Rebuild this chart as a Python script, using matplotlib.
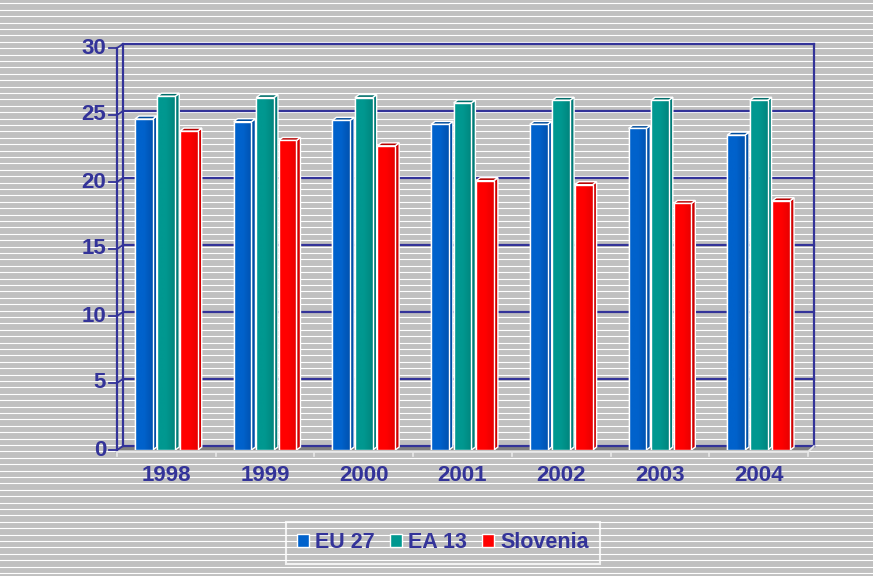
import numpy as np
import matplotlib
matplotlib.use("Agg")
import matplotlib.pyplot as plt
from matplotlib.lines import Line2D
from matplotlib.patches import Polygon, Patch
from matplotlib.colors import LinearSegmentedColormap

# data
years = ["1998", "1999", "2000", "2001", "2002", "2003", "2004"]
eu27 = [24.7, 24.5, 24.6, 24.3, 24.3, 24.0, 23.5]
ea13 = [26.4, 26.3, 26.3, 25.9, 26.1, 26.1, 26.1]
slovenia = [23.8, 23.1, 22.7, 20.1, 19.8, 18.4, 18.6]
series_names = ["EU 27", "EA 13", "Slovenia"]
yticks = [0, 5, 10, 15, 20, 25, 30]

front = ["#0062CC", "#009890", "#FF0000"]
front_dark = ["#0052B0", "#00857E", "#E80000"]
side = ["#0050A8", "#007C78", "#D00000"]
top = ["#004C9C", "#006E6A", "#B80000"]
navy = "#333399"
font = "Liberation Sans"

W, H = 873, 576
fig = plt.figure(figsize=(W / 100, H / 100), dpi=100)
fig.patch.set_facecolor("#C0C0C0")

# striped background
for yy in np.arange(3, H, 6.4):
    fig.add_artist(Line2D([0, 1], [yy / H, yy / H], color="white", lw=0.8,
                          zorder=-1, transform=fig.transFigure))

ax = fig.add_axes([117 / W, 126 / H, 691 / W, 402 / H])
ax.set_facecolor("none")
for s in ax.spines.values():
    s.set_visible(False)
ax.set_xlim(-0.5, 6.5)
ax.set_ylim(0, 30)
ax.set_xticks([])
ax.set_yticks([])

# pixel -> data conversions
pxx = 7 / 691
pxy = 30 / 402
wx, wy = 6 * pxx, 4 * pxy      # wall depth
bx, by = 4 * pxx, 3 * pxy      # bar depth

# floor
ax.add_patch(Polygon([(-0.5, 0), (6.5, 0), (6.5 + wx, wy), (-0.5 + wx, wy)],
                     closed=True, fc="#808080", ec="none", clip_on=False, zorder=1))
ax.plot([-0.5, 6.5], [-0.15, -0.15], color="#E8E8E8", lw=1.2, clip_on=False, zorder=2)
for k in range(8):
    ax.plot([k - 0.5, k - 0.5], [-0.15, -0.45], color="#E8E8E8", lw=1.2,
            clip_on=False, zorder=2)
ax.plot([6.5, 6.5 + wx], [-0.15, wy], color="#E8E8E8", lw=1.2, clip_on=False, zorder=2)

# back wall gridlines and edges
for t in yticks:
    ax.plot([-0.5 + wx, 6.5 + wx], [t + wy, t + wy], color=navy, lw=1.6,
            clip_on=False, zorder=1)
    ax.plot([-0.5, -0.5 + wx], [t, t + wy], color=navy, lw=1.3, clip_on=False, zorder=1)
    ax.plot([-0.58, -0.5], [t, t], color=navy, lw=1.3, clip_on=False, zorder=1)
    ax.text(-0.61, t, str(t), ha="right", va="center", color=navy, fontsize=16,
            fontweight="bold", family=font)
ax.plot([-0.5 + wx, -0.5 + wx], [wy, 30 + wy], color=navy, lw=1.6, clip_on=False, zorder=1)
ax.plot([6.5 + wx, 6.5 + wx], [wy, 30 + wy], color=navy, lw=1.6, clip_on=False, zorder=1)
ax.plot([-0.5, -0.5], [-0.15, 30], color=navy, lw=1.6, clip_on=False, zorder=1)

# 3d-looking bars
pitch, bw = 0.228, 0.18
x = np.arange(len(years))
grad = np.linspace(0, 1, 32).reshape(1, -1)
for i, vals in enumerate([eu27, ea13, slovenia]):
    cmap = LinearSegmentedColormap.from_list("g%d" % i, [front[i], front[i], front_dark[i]])
    lefts = x + (i - 1) * pitch - bw / 2
    bars = ax.bar(lefts, vals, width=bw, align="edge", color=front[i], edgecolor="white",
                  linewidth=1, zorder=3)
    for b, xl, h in zip(bars, lefts, vals):
        xr = xl + bw
        im = ax.imshow(grad, cmap=cmap, aspect="auto", extent=(xl, xr, 0, h),
                       zorder=3.1, interpolation="bilinear")
        im.set_clip_path(b)
        ax.add_patch(Polygon([(xl, 0), (xr, 0), (xr, h), (xl, h)], closed=True,
                             fc="none", ec="white", lw=1, zorder=3.2))
        ax.add_patch(Polygon([(xr, 0), (xr + bx, by), (xr + bx, h + by), (xr, h)],
                             closed=True, fc=side[i], ec="white", lw=1, zorder=3))
        ax.add_patch(Polygon([(xl, h), (xr, h), (xr + bx, h + by), (xl + bx, h + by)],
                             closed=True, fc=top[i], ec="white", lw=1, zorder=3))
ax.set_xlim(-0.5, 6.5)
ax.set_ylim(0, 30)

for xi, lab in zip(x, years):
    ax.text(xi, -1.9, lab, ha="center", va="center", color=navy, fontsize=16,
            fontweight="bold", family=font)

handles = [Patch(facecolor=c, edgecolor="white", lw=1) for c in front]
leg = fig.legend(handles, series_names, loc="center", ncol=3,
                 bbox_to_anchor=(443 / W, 1 - 543 / H), frameon=True,
                 prop={"family": font, "weight": "bold", "size": 15.5},
                 handlelength=0.55, handleheight=0.55, handletextpad=0.3,
                 columnspacing=0.7, borderpad=0.5, fancybox=False)
leg.get_frame().set_facecolor("none")
leg.get_frame().set_edgecolor("white")
leg.get_frame().set_linewidth(1.5)
for t in leg.get_texts():
    t.set_color(navy)

fig.savefig("out.png", dpi=100)
